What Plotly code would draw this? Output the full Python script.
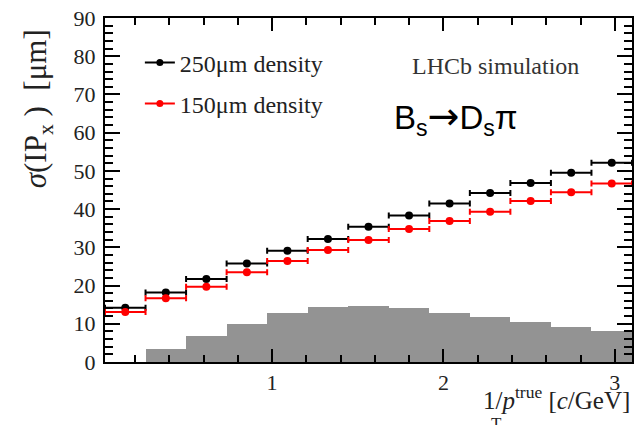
import plotly.graph_objects as go

# ---- data ----
bin_lo = 0.025
bin_hi = 3.1
n_bins = 13
sigma_250 = [14.2, 18.2, 21.7, 25.8, 29.1, 32.2, 35.4, 38.3, 41.5, 44.2, 46.8, 49.5, 52.1]
sigma_150 = [13.1, 16.7, 19.7, 23.5, 26.4, 29.3, 31.9, 34.8, 36.9, 39.3, 42.1, 44.4, 46.7]
hist_counts = [0.0, 3.3, 6.7, 10.0, 12.8, 14.3, 14.6, 14.0, 12.9, 11.7, 10.4, 9.2, 8.0]
x_ticks = [1, 2, 3]
series_names = ["250\u03bcm density", "150\u03bcm density"]

bw = (bin_hi - bin_lo) / n_bins
centers = [bin_lo + bw * (i + 0.5) for i in range(n_bins)]
half = [bw / 2] * n_bins

W, H = 635, 425
# plot area in page pixels
L, R, T, B = 105, 634, 18, 362
def px(x):
    return (x - L) / (R - L)
def py(y):
    return (B - y) / (B - T)

SERIF = "Liberation Serif"
fig = go.Figure()

fig.add_trace(go.Bar(x=centers, y=hist_counts, width=[bw] * n_bins,
                     marker=dict(color="#939393", line=dict(width=0)),
                     showlegend=False, hoverinfo="skip"))

for vals, col in [(sigma_250, "black"), (sigma_150, "#ff0000")]:
    fig.add_trace(go.Scatter(
        x=centers, y=vals, mode="markers",
        marker=dict(color=col, size=8),
        error_x=dict(type="data", array=half, symmetric=True, color=col,
                     thickness=2, width=3),
        showlegend=False))

# legend entries
fig.add_trace(go.Scatter(x=[None], y=[None], mode="lines+markers", name=series_names[0],
                         line=dict(color="black", width=2), marker=dict(color="black", size=7),
                         legend="legend"))
fig.add_trace(go.Scatter(x=[None], y=[None], mode="lines+markers", name=series_names[1],
                         line=dict(color="#ff0000", width=2), marker=dict(color="#ff0000", size=7),
                         legend="legend2"))

axis_common = dict(showline=True, linecolor="black", linewidth=2, mirror="ticks",
                   ticks="inside", tickwidth=2, tickcolor="black",
                   showgrid=False, zeroline=False,
                   tickfont=dict(family=SERIF, size=22, color="#222"))

fig.update_layout(
    width=W, height=H,
    margin=dict(l=L, r=W - R, t=T, b=H - B, pad=0),
    plot_bgcolor="white", paper_bgcolor="white",
    bargap=0,
    xaxis=dict(range=[bin_lo, bin_hi], tickvals=x_ticks, ticklen=13,
               minor=dict(dtick=0.2, tick0=0, ticks="inside", ticklen=7, tickwidth=2, tickcolor="black"),
               **axis_common),
    yaxis=dict(range=[0, 90], dtick=10, ticklen=15, ticklabelstandoff=3,
               minor=dict(dtick=2, ticks="inside", ticklen=8, tickwidth=2, tickcolor="black"),
               **axis_common),
    legend=dict(x=px(140), y=py(63), xanchor="left", yanchor="middle",
                font=dict(family=SERIF, size=24, color="#222"), bgcolor="rgba(0,0,0,0)",
                itemwidth=30),
    legend2=dict(x=px(140), y=py(104), xanchor="left", yanchor="middle",
                 font=dict(family=SERIF, size=24, color="#222"), bgcolor="rgba(0,0,0,0)",
                 itemwidth=30),
)

annos = [
    dict(text="LHCb simulation", x=px(497), y=py(66), xanchor="center", yanchor="middle",
         font=dict(family=SERIF, size=24, color="#333")),
    dict(text="B<sub>s</sub><span style=\"font-family:'DejaVu Sans';font-size:38px\">\u2192</span>D<sub>s</sub>\u03c0",
         x=px(393), y=py(118), xanchor="left",
         yanchor="middle", font=dict(family="Liberation Sans", size=33, color="black")),
    dict(text="<i>\u03c3</i>(IP<sub>x</sub>\u00a0) \u00a0[\u03bcm]", x=px(38), y=py(109), textangle=-90,
         xanchor="center", yanchor="middle", font=dict(family=SERIF, size=31, color="#222")),
    dict(text="1/<i>p</i><sup>true</sup> [<i>c</i>/GeV]", x=px(634), y=py(398),
         xanchor="right", yanchor="middle", font=dict(family=SERIF, size=25, color="#222")),
    dict(text="T", x=px(498), y=py(412), xanchor="center", yanchor="top",
         font=dict(family=SERIF, size=17, color="#222")),
]
for a in annos:
    a.update(xref="paper", yref="paper", showarrow=False)
    fig.add_annotation(**a)

fig.write_html("out.html", config={"displayModeBar": False},
               post_script="document.body.style.margin='0';")
